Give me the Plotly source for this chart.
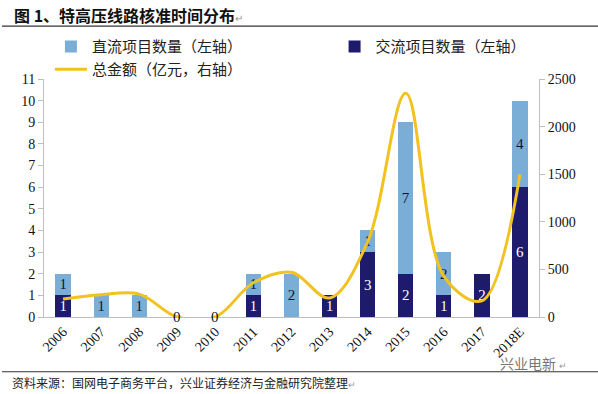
import plotly.graph_objects as go

years = ["2006", "2007", "2008", "2009", "2010", "2011", "2012", "2013",
         "2014", "2015", "2016", "2017", "2018E"]
ac_counts = [1, 0, 0, 0, 0, 1, 0, 1, 3, 2, 1, 2, 6]      # 交流项目数量
dc_counts = [1, 1, 1, 0, 0, 1, 2, 0, 1, 7, 2, 0, 4]      # 直流项目数量
total_amount = [190, 235, 240, 0, 0, 360, 470, 200, 790, 2350, 430, 170, 1500]  # 总金额（亿元）

left_ticks = list(range(0, 12))
right_ticks = [0, 500, 1000, 1500, 2000, 2500]

DARK = "#1E1A6C"
LIGHT = "#7BAED6"
GOLD = "#F2C21F"
SERIF = "Liberation Serif, Times New Roman, serif"
CJK = "Noto Sans CJK SC"

fig = go.Figure()

fig.add_trace(go.Bar(
    x=years, y=ac_counts, name="交流项目数量（左轴）",
    marker=dict(color=DARK, line=dict(width=0)),
    text=[str(v) if v > 0 else "" for v in ac_counts],
    textposition="inside", insidetextanchor="middle",
    textfont=dict(family=SERIF, size=15, color="white"),
    legend="legend2",
))
fig.add_trace(go.Bar(
    x=years, y=dc_counts, name="直流项目数量（左轴）",
    marker=dict(color=LIGHT, line=dict(width=0)),
    text=[str(v) if v > 0 else "" for v in dc_counts],
    textposition="inside", insidetextanchor="middle",
    textfont=dict(family=SERIF, size=15, color="#111133"),
    legend="legend",
))
fig.add_trace(go.Scatter(
    x=years, y=total_amount, name="总金额（亿元，右轴）",
    mode="lines", yaxis="y2",
    line=dict(color=GOLD, width=3, shape="spline", smoothing=1.0),
    legend="legend3",
))

annotations = []
for i, (a, d) in enumerate(zip(ac_counts, dc_counts)):
    if a + d == 0:
        annotations.append(dict(x=i, y=0, text="0", showarrow=False,
                                yanchor="middle", xref="x", yref="y",
                                font=dict(family=SERIF, size=15, color="#111111")))

annotations += [
    dict(text="<b>图 1、特高压线路核准时间分布</b><span style='font-size:10px;color:#999'>↵</span>",
         xref="paper", yref="paper", x=-0.065, y=1.27, xanchor="left", yanchor="middle",
         showarrow=False, font=dict(family=CJK, size=16, color="#111111")),
    dict(text="资料来源：国网电子商务平台，兴业证券经济与金融研究院整理<span style='font-size:9px;color:#999'>↵</span>",
         xref="paper", yref="paper", x=-0.068, y=-0.275, xanchor="left", yanchor="middle",
         showarrow=False, font=dict(family=CJK, size=12, color="#222222")),
    dict(text="兴业电新 <span style='font-size:9px;color:#999'>↵</span>",
         xref="paper", yref="paper", x=1.06, y=-0.195, xanchor="right", yanchor="middle",
         showarrow=False, font=dict(family=CJK, size=14, color="#777777")),
]

shapes = [
    dict(type="line", xref="paper", yref="paper", x0=-0.085, x1=1.12,
         y0=1.222, y1=1.222, line=dict(color="#333333", width=1.2)),
    dict(type="line", xref="paper", yref="paper", x0=-0.085, x1=1.12,
         y0=-0.23, y1=-0.23, line=dict(color="#333333", width=1.2)),
]

leg_common = dict(orientation="h", xanchor="left", yanchor="middle",
                  itemwidth=32, font=dict(family=CJK, size=15, color="#222222"),
                  bgcolor="rgba(0,0,0,0)")

fig.update_layout(
    width=598, height=394,
    margin=dict(l=44, r=59, t=79, b=77, autoexpand=False),
    paper_bgcolor="white", plot_bgcolor="white",
    barmode="stack", bargap=0.6,
    showlegend=True,
    annotations=annotations,
    shapes=shapes,
    legend=dict(x=0.012, y=1.135, **leg_common),
    legend2=dict(x=0.585, y=1.135, **leg_common),
    legend3=dict(x=0.012, y=1.04, **leg_common),
    xaxis=dict(type="category", categoryorder="array", categoryarray=years,
               range=[-0.5, len(years) - 0.5], tickangle=-45, showgrid=False,
               showline=True, linecolor="#BFBFBF", linewidth=1,
               ticks="", tickfont=dict(family=SERIF, size=14, color="#111111")),
    yaxis=dict(range=[0, 11], tickvals=left_ticks, showgrid=False, zeroline=False,
               showline=True, linecolor="#BFBFBF", linewidth=1,
               ticks="outside", ticklen=5, tickcolor="#BFBFBF",
               tickfont=dict(family=SERIF, size=14, color="#111111")),
    yaxis2=dict(range=[0, 2500], tickvals=right_ticks, overlaying="y", side="right",
                showgrid=False, zeroline=False,
                showline=True, linecolor="#BFBFBF", linewidth=1,
                ticks="outside", ticklen=5, tickcolor="#BFBFBF",
                tickfont=dict(family=SERIF, size=14, color="#111111")),
)

fig.write_html("out.html", config={"displayModeBar": False},
               post_script="document.body.style.margin='0';document.body.style.overflow='hidden';")
